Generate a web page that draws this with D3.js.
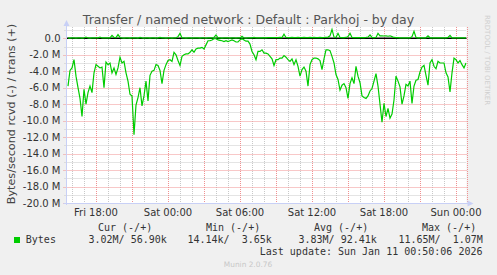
<!DOCTYPE html>
<html>
<head>
<meta charset="utf-8">
<script src="https://cdn.jsdelivr.net/npm/d3@7"></script>
<style>
body { margin: 0; background: #f0f0f0; }
svg { display: block; font-family: "DejaVu Sans", sans-serif; }
.mono { font-family: "DejaVu Sans Mono", monospace; }
</style>
</head>
<body>
<svg id="chart" width="497" height="275"></svg>
<script>
/*=================
=== The data
=================*/
// samples every 10 minutes, first one Fri 15:40, last Sun 00:50
var startTime = new Date(2026, 0, 9, 15, 40);
var stepMinutes = 10;

// received, MB/s (already negative, drawn below zero)
var rcvd = [
	-5.8, -3.9, -3.6, -2.6, -4.6, -6.0, -7.3, -9.5, -6.2, -8.0,
	-6.6, -5.8, -6.6, -4.2, -3.2, -3.4, -3.6, -3.5, -6.0, -2.9,
	-3.2, -3.0, -4.2, -3.6, -4.4, -3.6, -2.3, -3.0, -2.8, -4.2,
	-5.2, -6.8, -7.0, -11.7, -8.1, -7.2, -6.0, -8.2, -7.0, -5.2,
	-7.6, -4.5, -4.0, -3.9, -3.2, -3.3, -3.9, -5.5, -3.9, -3.2,
	-2.7, -2.6, -2.8, -1.7, -2.0, -2.7, -3.3, -2.2, -2.0, -1.9,
	-1.9, -1.7, -1.4, -1.7, -1.3, -1.2, -1.2, -1.1, -1.3, -0.8,
	-0.3, -0.3, -0.2, -0.05, -0.05, -0.2, -0.25, -0.3, -0.4, -0.3,
	-0.4, -0.3, -0.2, -0.3, -0.45, -0.45, -0.2, -0.05, -0.2, -0.35,
	-0.35, -0.7, -1.6, -2.0, -2.6, -1.6, -1.6, -1.4, -1.8, -1.8,
	-1.9, -2.2, -2.5, -3.3, -2.6, -2.6, -2.4, -2.4, -2.1, -2.3,
	-2.6, -2.8, -2.5, -3.2, -2.6, -3.4, -4.6, -3.8, -3.5, -4.0,
	-5.8, -3.2, -2.6, -2.4, -2.4, -2.5, -2.7, -3.8, -2.5, -1.4,
	-1.4, -1.5, -2.2, -3.0, -4.4, -5.0, -6.3, -5.7, -5.5, -6.0,
	-7.3, -5.5, -4.8, -5.5, -3.4, -4.6, -5.4, -7.0, -7.2, -7.3,
	-7.0, -6.4, -6.1, -5.2, -4.3, -5.8, -8.0, -10.2, -7.9, -9.5,
	-8.5, -9.7, -9.2, -7.5, -4.6, -5.2, -5.9, -8.0, -7.0, -5.6,
	-5.8, -5.2, -7.9, -5.8, -5.1, -5.0, -4.1, -3.5, -3.3, -4.5,
	-5.7, -3.0, -2.6, -3.4, -3.7, -2.8, -3.0, -3.0, -3.0, -4.2,
	-4.7, -6.5, -4.2, -2.4, -2.6, -3.0, -2.7, -3.2, -3.6, -3.0
];

// transmitted, MB/s (drawn above zero)
var trans = [
	0.04, 0.03, 0.05, 0.04, 0.03, 0.05, 0.04, 0.03, 0.05, 0.15,
	0.04, 0.03, 0.05, 0.04, 0.06, 0.05, 0.15, 0.04, 0.05, 0.04,
	0.05, 0.06, 0.35, 0.1, 0.08, 0.45, 0.1, 0.04, 0.03, 0.04,
	0.05, 0.03, 0.04, 0.05, 0.04, 0.03, 0.1, 0.04, 0.03, 0.05,
	0.04, 0.03, 0.05, 0.04, 0.03, 0.05, 0.1, 0.04, 0.05, 0.03,
	0.04, 0.05, 0.03, 0.04, 0.05, 0.2, 0.6, 0.05, 0.04, 0.03,
	0.05, 0.04, 0.03, 0.04, 0.05, 0.04, 0.03, 0.05, 0.04, 0.03,
	0.04, 0.05, 0.04, 0.1, 0.4, 0.05, 0.04, 0.03, 0.04, 0.05,
	0.04, 0.03, 0.05, 0.04, 0.03, 0.05, 0.04, 0.25, 0.04, 0.03,
	0.05, 0.04, 0.05, 0.1, 0.04, 0.05, 0.06, 0.05, 0.07, 0.06,
	0.08, 0.08, 0.07, 0.08, 0.09, 0.08, 0.1, 0.09, 0.5, 0.1,
	0.08, 0.09, 0.1, 0.08, 0.09, 0.1, 0.08, 0.09, 0.1, 0.08,
	0.09, 0.1, 0.08, 0.1, 0.09, 0.08, 0.1, 0.09, 0.1, 0.12,
	0.15, 0.3, 1.07, 0.15, 0.1, 0.6, 0.1, 0.09, 0.08, 0.1,
	0.2, 0.6, 0.1, 0.08, 0.09, 0.08, 0.07, 0.08, 0.09, 0.1,
	0.15, 0.4, 0.1, 0.08, 0.1, 0.6, 0.3, 0.3, 0.28, 0.3,
	0.25, 0.3, 0.2, 0.1, 0.08, 0.07, 0.06, 0.05, 0.06, 0.05,
	0.06, 0.05, 0.2, 0.85, 0.1, 0.06, 0.05, 0.06, 0.05, 0.06,
	0.3, 0.06, 0.05, 0.06, 0.05, 0.06, 0.05, 0.06, 0.05, 0.06,
	0.1, 0.35, 0.06, 0.05, 0.06, 0.05, 0.06, 0.05, 0.06, 0.057
];

var yLabelValues = [0, -2, -4, -6, -8, -10, -12, -14, -16, -18, -20];
var legendHeads = ['Cur (-/+)', 'Min (-/+)', 'Avg (-/+)', 'Max (-/+)'];
var legendVals = ['3.02M/ 56.90k', '14.14k/  3.65k', '3.83M/ 92.41k', '11.65M/  1.07M'];
var seriesName = 'Bytes';
var titleText = 'Transfer / named network : Default : Parkhoj - by day';
var yTitle = 'Bytes/second rcvd (-) / trans (+)';
var lastUpdate = 'Last update: Sun Jan 11 00:50:06 2026';

/*=================
=== The vars
=================*/
var svg = d3.select('#chart');
var pLeft = 66.5, pRight = 466.5, pTop = 27, pBottom = 203;

var x = d3.scaleTime()
	.domain([new Date(2026, 0, 9, 15, 32, 30), new Date(2026, 0, 11, 0, 52, 30)])
	.range([pLeft, pRight]);
var y = d3.scaleLinear().domain([-20, 1.37]).range([pBottom, pTop]);

function tAt(i) { return new Date(startTime.getTime() + i * stepMinutes * 60000); }
function px(v) { return Math.round(v) + 0.5; }
function keepSpaces(s) { return s.replace(/ /g, '\u00a0'); }

var green = '#00cc00';

// title
svg.append('text')
	.attr('x', 248.5).attr('y', 24)
	.attr('text-anchor', 'middle')
	.attr('font-size', '12.5px')
	.attr('fill', '#555')
	.text(titleText);

// plot background
svg.append('rect')
	.attr('x', pLeft).attr('y', pTop)
	.attr('width', pRight - pLeft).attr('height', pBottom - pTop)
	.attr('fill', '#fff');

/*=================
=== Grid
=================*/
var grid = svg.append('g');
var hours = x.ticks(d3.timeHour.every(1));
var hours3 = x.ticks(d3.timeHour.every(3));

grid.selectAll('.vmin').data(hours).enter().append('line')
	.attr('x1', function (d) { return px(x(d)); })
	.attr('x2', function (d) { return px(x(d)); })
	.attr('y1', pTop).attr('y2', pBottom)
	.attr('stroke', '#c8c8c8').attr('stroke-dasharray', '1,1');

var mVals = d3.range(-19, 2, 1).filter(function (v) { return v % 2 !== 0; });
grid.selectAll('.hmin').data(mVals).enter().append('line')
	.attr('x1', pLeft - 2).attr('x2', pRight)
	.attr('y1', function (d) { return px(y(d)); })
	.attr('y2', function (d) { return px(y(d)); })
	.attr('stroke', '#c8c8c8').attr('stroke-dasharray', '1,1');

grid.selectAll('.vmaj').data(hours3).enter().append('line')
	.attr('x1', function (d) { return px(x(d)); })
	.attr('x2', function (d) { return px(x(d)); })
	.attr('y1', pTop).attr('y2', pBottom + 2)
	.attr('stroke', '#f09090').attr('stroke-dasharray', '1,1');

grid.selectAll('.hmaj').data(yLabelValues).enter().append('line')
	.attr('x1', pLeft - 3).attr('x2', pRight + 1)
	.attr('y1', function (d) { return px(y(d)); })
	.attr('y2', function (d) { return px(y(d)); })
	.attr('stroke', '#f09090').attr('stroke-dasharray', '1,1');

grid.append('line')
	.attr('x1', pRight + 1).attr('x2', pRight + 1)
	.attr('y1', pTop).attr('y2', pBottom)
	.attr('stroke', '#f09090').attr('stroke-dasharray', '1,1');

/*=================
=== Lines
=================*/
svg.append('line')
	.attr('x1', pLeft).attr('x2', pRight)
	.attr('y1', y(0)).attr('y2', y(0))
	.attr('stroke', '#000').attr('stroke-width', 1.6);

var myLine = d3.line()
	.x(function (d, i) { return x(tAt(i)); })
	.y(function (d) { return y(d); });

svg.append('path').datum(rcvd)
	.attr('d', myLine)
	.attr('fill', 'none').attr('stroke', green).attr('stroke-width', 1.2);

svg.append('path').datum(trans)
	.attr('d', myLine)
	.attr('fill', 'none').attr('stroke', green).attr('stroke-width', 1.2);

/*=================
=== Axes
=================*/
var axisCol = '#c8d0f6';
svg.append('line')
	.attr('x1', pLeft).attr('x2', pLeft).attr('y1', pBottom + 2).attr('y2', 22)
	.attr('stroke', axisCol);
svg.append('line')
	.attr('x1', pLeft - 3).attr('x2', pRight + 3).attr('y1', pBottom + 0.5).attr('y2', pBottom + 0.5)
	.attr('stroke', axisCol);
svg.append('path')
	.attr('d', 'M' + (pLeft - 3) + ',26 L' + pLeft + ',20 L' + (pLeft + 3) + ',26 Z')
	.attr('fill', axisCol);
svg.append('path')
	.attr('d', 'M' + (pRight + 1) + ',' + (pBottom - 2.5) + ' L' + (pRight + 7) + ',' + (pBottom + 0.5) + ' L' + (pRight + 1) + ',' + (pBottom + 3.5) + ' Z')
	.attr('fill', axisCol);

var fmtY = function (v) { return v === 0 ? '0.0' : v.toFixed(1) + ' M'; };
svg.append('g').selectAll('text').data(yLabelValues).enter().append('text')
	.attr('x', 60.5)
	.attr('y', function (d) { return y(d); })
	.attr('dy', '0.36em')
	.attr('text-anchor', 'end')
	.attr('font-size', '10px')
	.attr('fill', '#333')
	.text(fmtY);

var fmtX = d3.timeFormat('%a %H:%M');
svg.append('g').selectAll('text').data(x.ticks(d3.timeHour.every(6))).enter().append('text')
	.attr('x', function (d) { return x(d); })
	.attr('y', 216)
	.attr('text-anchor', 'middle')
	.attr('font-size', '10px')
	.attr('fill', '#333')
	.text(fmtX);

svg.append('text')
	.attr('transform', 'translate(14.5,114) rotate(-90)')
	.attr('text-anchor', 'middle')
	.attr('font-size', '11.2px')
	.attr('fill', '#444')
	.text(yTitle);

svg.append('text')
	.attr('transform', 'translate(485,15) rotate(90)')
	.attr('font-size', '7px')
	.attr('fill', '#cfcfcf')
	.text('RRDTOOL / TOBI OETIKER');

/*=================
=== Legend
=================*/
var headX = [98, 206, 314, 422];
var valX = [88.5, 187.5, 298.5, 398.5];
var legend = svg.append('g').attr('class', 'mono').attr('font-size', '10px').attr('fill', '#333');

legend.selectAll('.head').data(legendHeads).enter().append('text')
	.attr('x', function (d, i) { return headX[i]; })
	.attr('y', 230.5)
	.text(keepSpaces);

svg.append('rect')
	.attr('x', 14).attr('y', 237).attr('width', 6).attr('height', 6)
	.attr('fill', green);

legend.append('text').attr('x', 25.8).attr('y', 242.5).text(seriesName);

legend.selectAll('.val').data(legendVals).enter().append('text')
	.attr('x', function (d, i) { return valX[i]; })
	.attr('y', 242.5)
	.text(keepSpaces);

legend.append('text')
	.attr('x', 482.5).attr('y', 254.5)
	.attr('text-anchor', 'end')
	.text(lastUpdate);

svg.append('text')
	.attr('x', 248).attr('y', 267)
	.attr('text-anchor', 'middle')
	.attr('font-size', '7.4px')
	.attr('fill', '#c8c8c8')
	.text('Munin 2.0.76');
</script>
</body>
</html>
